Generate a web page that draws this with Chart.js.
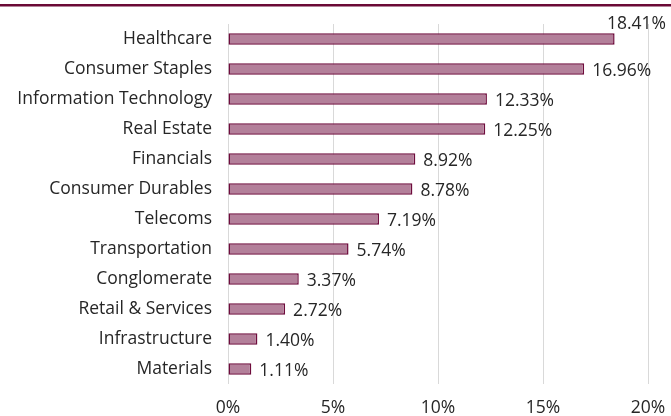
<!DOCTYPE html>
<html><head><meta charset="utf-8">
<script src="https://cdn.jsdelivr.net/npm/chart.js@4/dist/chart.umd.min.js"></script>
<style>html,body{margin:0;padding:0;background:#fff}#wrap{width:671px;height:416px}</style>
</head><body><div id="wrap"><canvas id="c" width="671" height="416"></canvas></div>
<script>
const categories = ["Healthcare","Consumer Staples","Information Technology","Real Estate","Financials","Consumer Durables","Telecoms","Transportation","Conglomerate","Retail & Services","Infrastructure","Materials"];
const values = [18.41,16.96,12.33,12.25,8.92,8.78,7.19,5.74,3.37,2.72,1.40,1.11];
const tickLabels = ["0%","5%","10%","15%","20%"];

const FONT = "'Open Sans', sans-serif";
const FS = 17.5;
const topLine = {id:'topLine', beforeDraw(ch){const c=ch.ctx;c.save();c.fillStyle='#6b0a36';c.fillRect(0,4,ch.width,2.5);c.restore();}};
const dataLabels = {id:'dataLabels', afterDatasetsDraw(ch){
  const c=ch.ctx; const meta=ch.getDatasetMeta(0);
  c.save(); c.font=FS+"px "+FONT; c.fillStyle='#262626'; c.textBaseline='middle'; c.textAlign='left';
  meta.data.forEach((bar,i)=>{
    const t=values[i].toFixed(2)+'%';
    const w=c.measureText(t).width;
    let x=bar.x+8, y=bar.y+2;
    if (x+w>ch.width-4){ x=ch.width-5-w; y=bar.y-15; }
    c.fillText(t,x,y);
  });
  c.restore();
}};

new Chart(document.getElementById('c'),{
  type:'bar',
  data:{labels:categories,datasets:[{data:values,backgroundColor:'#b3809a',borderColor:'#6e0b3c',borderWidth:1.5,borderSkipped:false,categoryPercentage:1,barPercentage:0.39}]},
  options:{
    indexAxis:'y', responsive:false, animation:false, devicePixelRatio:1,
    layout:{padding:{top:24,right:23,bottom:0,left:0}},
    plugins:{legend:{display:false},tooltip:{enabled:false}},
    scales:{
      x:{min:0,max:20,
        ticks:{stepSize:5,color:'#262626',font:{family:FONT,size:FS},padding:14,
          callback:(v,i)=>tickLabels[i]},
        grid:{color:'#d9d9d9',drawTicks:false},border:{display:false},
        afterFit(s){s.height=32;s.paddingLeft=0;s.paddingRight=0;}},
      y:{ticks:{color:'#262626',font:{family:FONT,size:FS},padding:16},
        grid:{display:false,drawTicks:false},border:{display:false},
        afterFit(s){s.width=228;s.paddingTop=0;s.paddingBottom=0;}}
    }
  },
  plugins:[topLine,dataLabels]
});
</script></body></html>
